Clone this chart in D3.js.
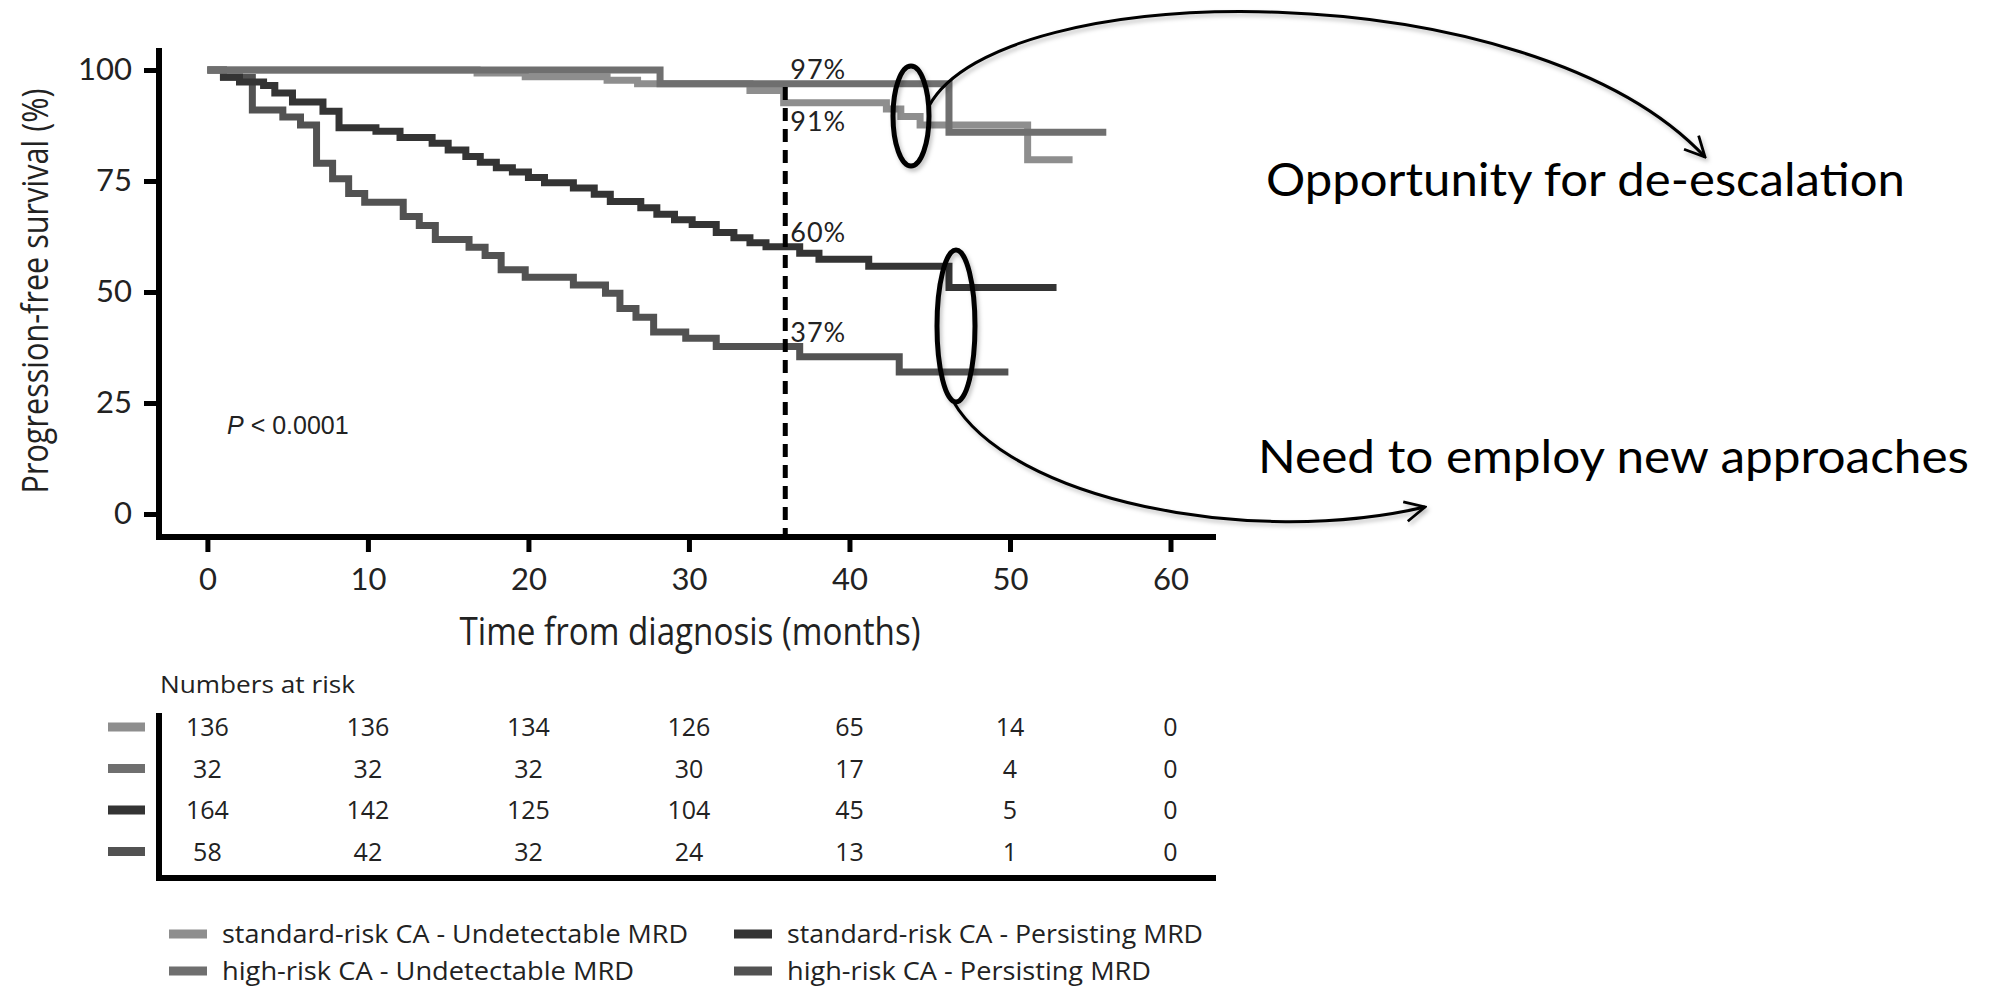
<!DOCTYPE html>
<html>
<head>
<meta charset="utf-8">
<script src="https://cdnjs.cloudflare.com/ajax/libs/d3/7.8.5/d3.min.js"></script>
<style>
  body { margin: 0; background: #fff; }
  svg { display: block; }
</style>
</head>
<body>
<svg id="mychart"></svg>
<script>
// step curves: month where each step starts, PFS % from there on
var stdUndetTime = [0, 16.8, 19.8, 24.9, 26.8, 33.8, 35.9, 42.3, 43.2, 44.4, 51.1, 53.9];
var stdUndetPfs  = [100, 99.3, 98.5, 97.7, 96.9, 95.4, 92.6, 91.2, 89.5, 87.6, 79.8, 79.8];

var highUndetTime = [0, 28.2, 46.2, 56];
var highUndetPfs  = [100, 96.9, 86.0, 86.0];

var stdPersTime = [0, 1, 2, 3.5, 4.2, 5.3, 7.2, 8.2, 10.5, 12, 14, 15, 16.1, 17, 18, 19, 20, 21,
                   22.8, 24.1, 25.1, 27, 28, 29.1, 30.2, 31.7, 32.8, 33.8, 34.8, 36.9, 38.1, 41.2, 46.2, 52.9];
var stdPersPfs  = [100, 98.5, 97.3, 96.5, 94.8, 92.8, 90.7, 87, 86.2, 84.8, 83.5, 82, 80.5, 79.2, 78, 77, 75.8, 74.6,
                   73.4, 72, 70.4, 69, 67.5, 66.3, 65.2, 63.4, 62.2, 61.1, 60.2, 58.7, 57.4, 55.8, 51, 51];

var highPersTime = [0, 1, 2.8, 4.7, 5.8, 6.8, 7.8, 8.8, 9.8, 12.2, 13.2, 14.2, 16.3, 17.3, 18.3, 19.8,
                    22.8, 24.8, 25.7, 26.7, 27.8, 29.8, 31.7, 36.9, 43.1, 49.9];
var highPersPfs  = [100, 98.3, 91, 89.4, 87.6, 79, 75.5, 72.2, 70.2, 67, 65, 61.8, 60.1, 58.2, 55, 53.3,
                    51.6, 49.7, 46.3, 44.3, 41, 39.6, 37.7, 35.4, 32, 32];

// numbers at risk, one value per x tick
var riskStdUndet  = [136, 136, 134, 126, 65, 14, 0];
var riskHighUndet = [32, 32, 32, 30, 17, 4, 0];
var riskStdPers   = [164, 142, 125, 104, 45, 5, 0];
var riskHighPers  = [58, 42, 32, 24, 13, 1, 0];

var seriesNames = ["standard-risk CA - Undetectable MRD", "high-risk CA - Undetectable MRD",
                   "standard-risk CA - Persisting MRD", "high-risk CA - Persisting MRD"];
var seriesColors = ["#8e8e8e", "#6f6f6f", "#343434", "#525252"];

var xTicks = [0, 10, 20, 30, 40, 50, 60];
var yTicks = [0, 25, 50, 75, 100];

var landmark = 36;
var landmarkLabels = ["97%", "91%", "60%", "37%"];
var landmarkLabelY = [100.2, 88.3, 63.5, 40.8];

var width = 1995;
var height = 989;

var svg = d3.select("#mychart")
  .attr("width", width)
  .attr("height", height);

var defs = svg.append("defs");
var shadow = defs.append("filter").attr("id", "shadow")
  .attr("x", "-20%").attr("y", "-20%").attr("width", "140%").attr("height", "140%");
shadow.append("feDropShadow")
  .attr("dx", 2).attr("dy", 3).attr("stdDeviation", 2)
  .attr("flood-color", "#000").attr("flood-opacity", 0.25);

defs.append("marker")
  .attr("id", "arrow")
  .attr("markerUnits", "userSpaceOnUse")
  .attr("viewBox", "0 0 12 12")
  .attr("refX", 11).attr("refY", 6)
  .attr("markerWidth", 24).attr("markerHeight", 24)
  .attr("orient", "auto")
  .append("path")
  .attr("d", "M1,1 L11,6 L1,11")
  .attr("fill", "none")
  .attr("stroke", "#000")
  .attr("stroke-width", 1.4);

var x = d3.scaleLinear().domain([0, 60]).range([207.4, 1170.5]);
var y = d3.scaleLinear().domain([0, 100]).range([514, 70]);

var tickFont = "Lato, 'Open Sans', sans-serif";
var narrowFont = "'Liberation Sans Narrow', 'Open Sans', sans-serif";

// y axis (offset to the left like the original)
var yAxis = svg.append("g")
  .attr("transform", "translate(159,0)")
  .call(d3.axisLeft(y).tickValues(yTicks).tickSize(15).tickPadding(12));
yAxis.select(".domain").remove();
yAxis.selectAll(".tick line").attr("stroke", "#000").attr("stroke-width", 5);
yAxis.selectAll(".tick text")
  .attr("font-family", tickFont).attr("font-size", 31).attr("fill", "#222");

// x axis (offset below)
var xAxis = svg.append("g")
  .attr("transform", "translate(0,537)")
  .call(d3.axisBottom(x).tickValues(xTicks).tickSize(15).tickPadding(16));
xAxis.select(".domain").remove();
xAxis.selectAll(".tick line").attr("stroke", "#000").attr("stroke-width", 5);
xAxis.selectAll(".tick text")
  .attr("font-family", tickFont).attr("font-size", 31).attr("fill", "#222");

svg.append("line")
  .attr("x1", 159).attr("x2", 159).attr("y1", 48).attr("y2", 540)
  .attr("stroke", "#000").attr("stroke-width", 6);
svg.append("line")
  .attr("x1", 156).attr("x2", 1216).attr("y1", 537).attr("y2", 537)
  .attr("stroke", "#000").attr("stroke-width", 6);

// axis titles
svg.append("text")
  .attr("transform", "translate(48,291) rotate(-90)")
  .attr("text-anchor", "middle")
  .attr("font-family", narrowFont).attr("font-size", 36).attr("fill", "#222")
  .attr("textLength", 405).attr("lengthAdjust", "spacingAndGlyphs")
  .text("Progression-free survival (%)");

svg.append("text")
  .attr("x", 690).attr("y", 645)
  .attr("text-anchor", "middle")
  .attr("font-family", narrowFont).attr("font-size", 38).attr("fill", "#222")
  .attr("textLength", 461).attr("lengthAdjust", "spacingAndGlyphs")
  .text("Time from diagnosis (months)");

// survival curves
var series = [
  {name: seriesNames[0], time: stdUndetTime, pfs: stdUndetPfs},
  {name: seriesNames[1], time: highUndetTime, pfs: highUndetPfs},
  {name: seriesNames[2], time: stdPersTime, pfs: stdPersPfs},
  {name: seriesNames[3], time: highPersTime, pfs: highPersPfs}
];

var line = d3.line()
  .x(function(d) { return x(d[0]); })
  .y(function(d) { return y(d[1]); })
  .curve(d3.curveStepAfter);

// draw order: lightest groups on top of the dark ones near 100%
var drawOrder = [3, 2, 0, 1];
svg.append("g").selectAll("path")
  .data(drawOrder)
  .enter()
  .append("path")
  .attr("d", function(i) {
    var s = series[i];
    return line(s.time.map(function(t, k) { return [t, s.pfs[k]]; }));
  })
  .attr("fill", "none")
  .attr("stroke", function(i) { return seriesColors[i]; })
  .attr("stroke-width", 7);

// landmark at 36 months
svg.append("line")
  .attr("x1", x(landmark)).attr("x2", x(landmark))
  .attr("y1", 87).attr("y2", 535)
  .attr("stroke", "#000").attr("stroke-width", 5)
  .attr("stroke-dasharray", "13,8");

svg.append("g").selectAll("text")
  .data(landmarkLabels)
  .enter()
  .append("text")
  .attr("x", x(landmark) + 5)
  .attr("y", function(d, i) { return y(landmarkLabelY[i]); })
  .attr("dy", "0.35em")
  .attr("font-family", tickFont).attr("font-size", 27).attr("fill", "#222")
  .attr("letter-spacing", 1)
  .text(function(d) { return d; });

svg.append("text")
  .attr("x", 227).attr("y", 434)
  .attr("font-family", "'Liberation Sans', Arial, sans-serif").attr("font-size", 25).attr("fill", "#222")
  .html("<tspan font-style='italic'>P</tspan> &lt; 0.0001");

// callouts
var notes = svg.append("g")
  .attr("fill", "none").attr("stroke", "#000")
  .attr("filter", "url(#shadow)");
notes.append("ellipse")
  .attr("cx", 911).attr("cy", 116).attr("rx", 18).attr("ry", 50)
  .attr("stroke-width", 5);
notes.append("ellipse")
  .attr("cx", 956).attr("cy", 326).attr("rx", 19).attr("ry", 76)
  .attr("stroke-width", 5);
notes.append("path")
  .attr("d", "M929,106 C1000,-25 1530,-30 1705,157")
  .attr("stroke-width", 3)
  .attr("marker-end", "url(#arrow)");
notes.append("path")
  .attr("d", "M953,401 C1010,500 1250,548 1425,507")
  .attr("stroke-width", 3)
  .attr("marker-end", "url(#arrow)");

svg.append("text")
  .attr("x", 1266).attr("y", 196)
  .attr("font-family", "Lato, 'Open Sans', sans-serif").attr("font-size", 46).attr("fill", "#000")
  .attr("textLength", 639).attr("lengthAdjust", "spacingAndGlyphs")
  .text("Opportunity for de-escalation");
svg.append("text")
  .attr("x", 1258).attr("y", 473)
  .attr("font-family", "Lato, 'Open Sans', sans-serif").attr("font-size", 46).attr("fill", "#000")
  .attr("textLength", 711).attr("lengthAdjust", "spacingAndGlyphs")
  .text("Need to employ new approaches");

// numbers at risk table
var riskRows = [riskStdUndet, riskHighUndet, riskStdPers, riskHighPers];
var rowY = function(i) { return 727 + i * 41.5; };

svg.append("text")
  .attr("x", 160).attr("y", 693)
  .attr("font-family", narrowFont).attr("font-size", 23).attr("fill", "#222")
  .attr("textLength", 195).attr("lengthAdjust", "spacingAndGlyphs")
  .text("Numbers at risk");

var table = svg.append("g");
var rows = table.selectAll("g.row")
  .data(riskRows)
  .enter()
  .append("g")
  .attr("class", "row");

rows.append("rect")
  .attr("x", 108).attr("y", function(d, i) { return rowY(i) - 4.5; })
  .attr("width", 37).attr("height", 9)
  .attr("fill", function(d, i) { return seriesColors[i]; });

rows.each(function(vals, i) {
  d3.select(this).selectAll("text")
    .data(vals)
    .enter()
    .append("text")
    .attr("x", function(v, k) { return x(xTicks[k]); })
    .attr("y", rowY(i))
    .attr("dy", "0.36em")
    .attr("text-anchor", "middle")
    .attr("font-family", "'Open Sans', sans-serif").attr("font-size", 25).attr("fill", "#222")
    .text(function(v) { return v; });
});

table.append("line")
  .attr("x1", 159).attr("x2", 159).attr("y1", 713).attr("y2", 881)
  .attr("stroke", "#000").attr("stroke-width", 6);
table.append("line")
  .attr("x1", 156).attr("x2", 1216).attr("y1", 878).attr("y2", 878)
  .attr("stroke", "#000").attr("stroke-width", 6);

// legend
var legendPos = [
  {x: 169, y: 934, len: 466},
  {x: 169, y: 971, len: 412},
  {x: 734, y: 934, len: 416},
  {x: 734, y: 971, len: 364}
];
var legend = svg.append("g").selectAll("g")
  .data(seriesNames)
  .enter()
  .append("g")
  .attr("transform", function(d, i) { return "translate(" + legendPos[i].x + "," + legendPos[i].y + ")"; });
legend.append("rect")
  .attr("x", 0).attr("y", -4.5).attr("width", 38).attr("height", 9)
  .attr("fill", function(d, i) { return seriesColors[i]; });
legend.append("text")
  .attr("x", 53).attr("dy", "0.34em")
  .attr("font-family", narrowFont).attr("font-size", 25).attr("fill", "#222")
  .attr("textLength", function(d, i) { return legendPos[i].len; })
  .attr("lengthAdjust", "spacingAndGlyphs")
  .text(function(d) { return d; });
</script>
</body>
</html>
